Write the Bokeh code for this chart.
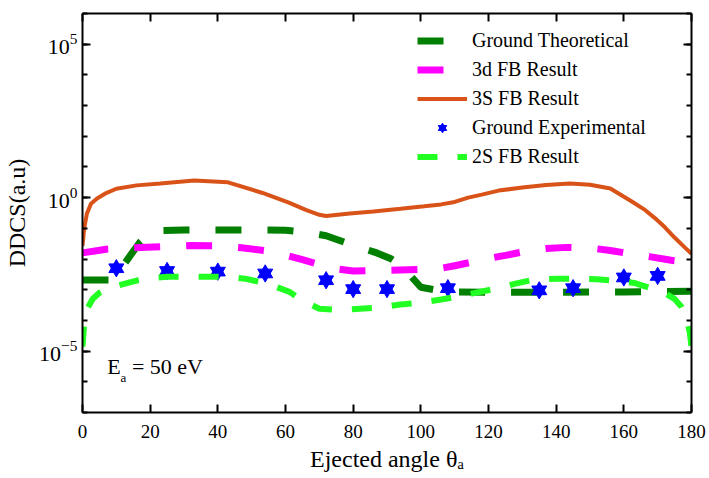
import numpy as np
from bokeh.plotting import figure
from bokeh.models import (Range1d, FixedTicker, LogAxis, LinearAxis, Legend, LegendItem,
                          Label, LogTickFormatter, CustomLabelingPolicy)
from bokeh.embed import file_html
from bokeh.resources import INLINE

# ---------------- data (angles in degrees, DDCS given as log10 values) ----------------
theo_theta = [0, 9, 11, 13, 15, 17, 19, 21, 23, 30, 40, 50, 60, 66, 72, 80, 87, 91, 94, 97,
              100, 104, 110, 120, 140, 160, 180]
theo_log = [-2.68, -2.68, -2.35, -2.06, -1.75, -1.45, -1.25, -1.12, -1.07, -1.05, -1.05, -1.05,
            -1.06, -1.12, -1.24, -1.55, -1.8, -1.98, -2.2, -2.55, -2.92, -3.0, -3.07, -3.08,
            -3.08, -3.07, -3.05]

d3_theta = [0, 7, 15, 23, 32, 40, 47, 54, 60, 65, 70, 75, 80, 90, 100, 106, 110, 115, 120,
            125, 131, 137, 143, 150, 156, 162, 168, 174, 180]
d3_log = [-1.8, -1.68, -1.63, -1.6, -1.56, -1.57, -1.63, -1.73, -1.87, -2.02, -2.18, -2.32,
          -2.39, -2.37, -2.34, -2.3, -2.22, -2.1, -1.98, -1.88, -1.75, -1.66, -1.62, -1.64,
          -1.72, -1.83, -1.93, -2.04, -2.12]

s3_theta = [0, 0.5, 1.3, 2.5, 4.3, 7, 10, 16, 23, 33, 43, 53, 61, 66, 70, 72, 79, 86, 94, 101,
            106, 110, 114, 118, 123, 130, 137, 144, 150, 156, 162, 166, 169, 172, 175, 178, 180]
s3_log = [-1.57, -1.0, -0.52, -0.2, -0.03, 0.15, 0.29, 0.4, 0.46, 0.56, 0.5, 0.16, -0.16, -0.4,
          -0.56, -0.6, -0.52, -0.45, -0.36, -0.28, -0.22, -0.14, 0.0, 0.1, 0.23, 0.33, 0.41,
          0.46, 0.42, 0.3, -0.1, -0.38, -0.65, -0.95, -1.3, -1.62, -1.83]

exp_theta = [10, 25, 40, 54, 72, 80, 90, 108, 135, 145, 160, 170]
exp_log = [-2.3, -2.39, -2.41, -2.47, -2.69, -2.98, -2.98, -2.95, -3.02, -2.95, -2.6, -2.55]

s2_theta = [0, 0.5, 1.5, 3, 5, 8, 12, 16, 20, 25, 31, 37, 43, 48, 53, 57, 61, 65, 70, 76, 82,
            88, 94, 100, 106, 112, 117, 122, 128, 134, 140, 146, 152, 158, 163, 168, 172, 175,
            177, 178.5, 179.5, 180]
s2_log = [-4.85, -4.1, -3.6, -3.3, -3.1, -2.94, -2.82, -2.7, -2.62, -2.58, -2.58, -2.58, -2.58,
          -2.64, -2.76, -2.9, -3.06, -3.35, -3.62, -3.66, -3.62, -3.58, -3.48, -3.42, -3.32,
          -3.2, -3.08, -2.97, -2.8, -2.66, -2.64, -2.64, -2.66, -2.71, -2.78, -2.95, -3.1,
          -3.3, -3.55, -3.9, -4.4, -4.85]

x_ticks = [0, 20, 40, 60, 80, 100, 120, 140, 160, 180]
y_major = [1e-5, 1e0, 1e5]
y_minor = [10.0 ** k for k in range(-7, 7)]

labels = ["Ground Theoretical", "3d FB Result", "3S FB Result", "Ground Experimental", "2S FB Result"]


def tolin(v):
    return [10.0 ** a for a in v]


SERIF = "Liberation Serif"

p = figure(width=709, height=478, x_range=Range1d(0, 180), y_range=Range1d(1e-7, 1e6),
           y_axis_type="log", output_backend="svg", toolbar_location=None,
           min_border_left=82, min_border_right=18, min_border_top=13, min_border_bottom=66)
p.xgrid.visible = False
p.ygrid.visible = False
p.outline_line_color = None
p.background_fill_color = "white"
p.border_fill_color = "white"

xt = FixedTicker(ticks=x_ticks)
yt = FixedTicker(ticks=y_major, minor_ticks=y_minor)

no_labels = CustomLabelingPolicy(code="""
for (const i of [...indices]) { indices.unset(i) }
return indices
""")


def style_axis(ax):
    ax.axis_line_width = 2
    ax.axis_line_color = "black"
    ax.major_tick_line_width = 2
    ax.minor_tick_line_width = 2
    ax.major_tick_in = 8
    ax.major_tick_out = 0
    ax.minor_tick_in = 5
    ax.minor_tick_out = 0
    ax.major_label_text_font = SERIF
    ax.major_label_text_color = "black"
    ax.axis_label_text_color = "black"


p.xaxis.ticker = xt
p.yaxis.ticker = yt
p.yaxis.formatter = LogTickFormatter()
for ax in p.xaxis:
    style_axis(ax)
    ax.major_label_text_font_size = "19px"
    ax.major_label_standoff = 12
    ax.axis_label = "Ejected angle θₐ"
    ax.axis_label_text_font = SERIF
    ax.axis_label_text_font_style = "normal"
    ax.axis_label_text_font_size = "24px"
    ax.axis_label_standoff = 5
for ax in p.yaxis:
    style_axis(ax)
    ax.major_label_text_font_size = "22px"
    ax.major_label_standoff = 5
    ax.axis_label = "DDCS(a.u)"
    ax.axis_label_text_font = SERIF
    ax.axis_label_text_font_style = "normal"
    ax.axis_label_text_font_size = "24px"
    ax.axis_label_standoff = 6

top = LinearAxis(ticker=xt, major_label_policy=no_labels, major_label_standoff=0)
style_axis(top)
top.major_label_text_font_size = "1px"
p.add_layout(top, "above")
right = LogAxis(ticker=yt, major_label_policy=no_labels, major_label_standoff=0)
style_axis(right)
right.major_label_text_font_size = "1px"
p.add_layout(right, "right")

r_theo = p.line(theo_theta, tolin(theo_log), line_color="#007F00", line_width=7, line_dash="26 26")
r_d3 = p.line(d3_theta, tolin(d3_log), line_color="#FF00FF", line_width=7, line_dash="26 26")
r_s3 = p.line(s3_theta, tolin(s3_log), line_color="#D95319", line_width=4)
r_up = p.scatter(exp_theta, tolin(exp_log), marker="triangle", size=15, color="#0000FF")
r_dn = p.scatter(exp_theta, tolin(exp_log), marker="inverted_triangle", size=15, color="#0000FF")
r_s2 = p.line(s2_theta, tolin(s2_log), line_color="#22FF22", line_width=6, line_dash="20 20")

legend = Legend(items=[
    LegendItem(label=labels[0], renderers=[r_theo]),
    LegendItem(label=labels[1], renderers=[r_d3]),
    LegendItem(label=labels[2], renderers=[r_s3]),
    LegendItem(label=labels[3], renderers=[r_up, r_dn]),
    LegendItem(label=labels[4], renderers=[r_s2]),
], location=(335, 244), padding=0, margin=0, spacing=6, label_height=21, glyph_height=21,
    glyph_width=50, label_standoff=5, label_text_font=SERIF, label_text_font_size="20px",
    label_text_color="black", border_line_color=None, background_fill_alpha=0)
p.add_layout(legend)

p.add_layout(Label(x=7.3, y=10 ** -5.49, text="E", text_font=SERIF, text_font_size="22px",
                   text_baseline="alphabetic", text_color="black"))
p.add_layout(Label(x=11.2, y=10 ** -5.85, text="a", text_font=SERIF, text_font_size="13px",
                   text_baseline="alphabetic", text_color="black"))
p.add_layout(Label(x=14.6, y=10 ** -5.49, text="= 50 eV", text_font=SERIF, text_font_size="22px",
                   text_baseline="alphabetic", text_color="black"))

open("out.html", "w").write(file_html(p, INLINE))
